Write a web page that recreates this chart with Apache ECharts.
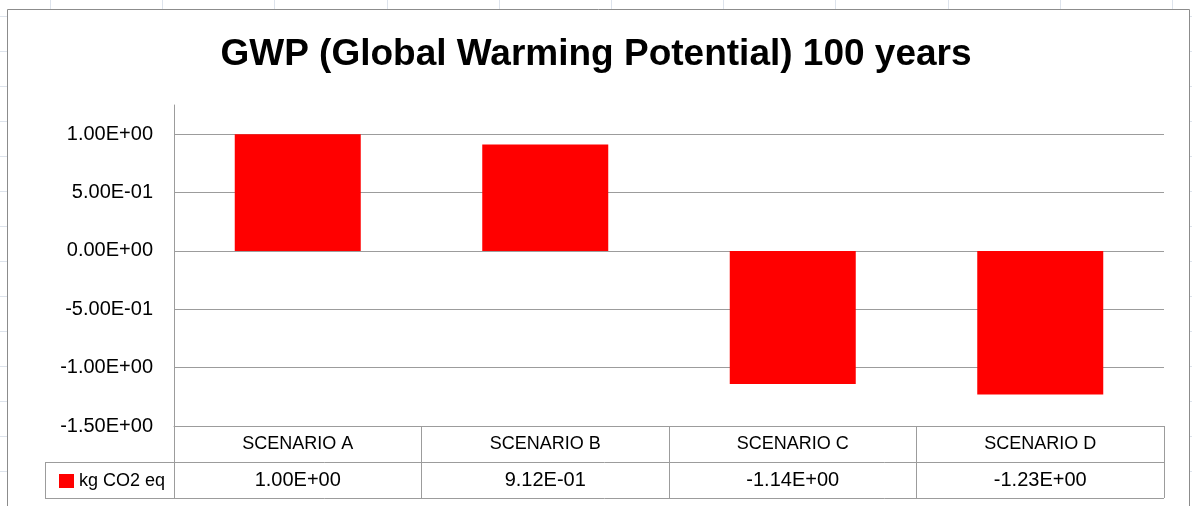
<!DOCTYPE html>
<html>
<head>
<meta charset="utf-8">
<title>GWP (Global Warming Potential) 100 years</title>
<script src="https://cdn.jsdelivr.net/npm/echarts@6/dist/echarts.min.js"></script>
<style>
  html, body { margin: 0; padding: 0; background: #ffffff; }
  #chart { width: 1192px; height: 506px; }
</style>
</head>
<body>
<div id="chart"></div>
<script>
// Scenario categories and their kg CO2 eq results
const categories = ['SCENARIO A', 'SCENARIO B', 'SCENARIO C', 'SCENARIO D'];
const seriesName = 'kg CO2 eq';
const gwpValues = [1.00, 0.912, -1.14, -1.23];

// Value axis range and step
const axisMin = -1.5;
const axisMax = 1.25;
const axisStep = 0.5;

const FONT = 'Liberation Sans';
const LINE = '#9c9c9c';
const SHEET = '#dde3ec';

// Scientific notation in the spreadsheet style, e.g. 9.12E-01
function sci(v) {
  const s = Number(v).toExponential(2);
  const parts = s.split('e');
  let exp = parts[1];
  const sign = exp[0] === '-' ? '-' : '+';
  exp = exp.replace(/[+-]/, '');
  if (exp.length < 2) exp = '0' + exp;
  return parts[0] + 'E' + sign + exp;
}

// Faint worksheet cell lines peeking around the chart frame
const sheetLines = [];
for (let x = 50; x < 1192; x += 112.2) {
  sheetLines.push({ type: 'line', silent: true, z: -10,
    shape: { x1: Math.round(x) + 0.5, y1: 0, x2: Math.round(x) + 0.5, y2: 9 },
    style: { stroke: SHEET, lineWidth: 1 } });
}
for (let y = 15.5; y < 506; y += 35) {
  sheetLines.push({ type: 'line', silent: true, z: -10,
    shape: { x1: 0, y1: Math.round(y) + 0.5, x2: 7, y2: Math.round(y) + 0.5 },
    style: { stroke: SHEET, lineWidth: 1 } });
  sheetLines.push({ type: 'line', silent: true, z: -10,
    shape: { x1: 1190, y1: Math.round(y) + 0.5, x2: 1192, y2: Math.round(y) + 0.5 },
    style: { stroke: SHEET, lineWidth: 1 } });
}

// Chart frame and data-table borders
const frame = [
  { type: 'rect', silent: true, z: -5,
    shape: { x: 7.5, y: 9.5, width: 1182, height: 520 },
    style: { fill: '#ffffff', stroke: '#8c8c8c', lineWidth: 1 } },
  { type: 'line', silent: true, z: 10,
    shape: { x1: 45, y1: 462.5, x2: 1164, y2: 462.5 },
    style: { stroke: LINE, lineWidth: 1 } },
  { type: 'line', silent: true, z: 10,
    shape: { x1: 45, y1: 498.5, x2: 1164, y2: 498.5 },
    style: { stroke: LINE, lineWidth: 1 } },
  { type: 'line', silent: true, z: 10,
    shape: { x1: 45.5, y1: 462, x2: 45.5, y2: 499 },
    style: { stroke: LINE, lineWidth: 1 } }
];

const chart = echarts.init(document.getElementById('chart'), null, { renderer: 'canvas' });

chart.setOption({
  animation: false,
  backgroundColor: 'transparent',
  title: {
    text: 'GWP (Global Warming Potential) 100 years',
    left: 'center',
    top: 31,
    textStyle: { fontFamily: FONT, fontSize: 37, fontWeight: 'bold', color: '#000000' }
  },
  legend: {
    data: [seriesName],
    left: 54,
    top: 467,
    itemWidth: 15,
    itemHeight: 14,
    icon: 'rect',
    textStyle: { fontFamily: FONT, fontSize: 18, color: '#000000' }
  },
  grid: { left: 174, right: 28, top: 105, bottom: 80, containLabel: false },
  xAxis: {
    type: 'category',
    data: categories,
    position: 'bottom',
    boundaryGap: true,
    axisLine: { show: true, onZero: false, lineStyle: { color: LINE, width: 1 } },
    axisTick: { show: true, interval: 0, alignWithLabel: false, length: 72,
      lineStyle: { color: LINE, width: 1 } },
    splitLine: { show: false },
    axisLabel: {
      interval: 0,
      margin: 0,
      formatter: function (name, idx) {
        return '{c|' + name + '}\n{v|' + sci(gwpValues[idx]) + '}';
      },
      rich: {
        c: { fontFamily: FONT, fontSize: 18, lineHeight: 36, color: '#000000' },
        v: { fontFamily: FONT, fontSize: 20, lineHeight: 36, color: '#000000' }
      }
    }
  },
  yAxis: {
    type: 'value',
    min: axisMin,
    max: axisMax,
    interval: axisStep,
    axisLine: { show: true, lineStyle: { color: LINE, width: 1 } },
    axisTick: { show: false },
    splitLine: { show: true, showMaxLine: false, showMinLine: false,
      lineStyle: { color: LINE, width: 1 } },
    axisLabel: {
      margin: 21,
      showMaxLabel: false,
      fontFamily: FONT,
      fontSize: 20,
      color: '#000000',
      formatter: function (v) { return sci(v); }
    }
  },
  series: [{
    name: seriesName,
    type: 'bar',
    data: gwpValues,
    barWidth: 126,
    itemStyle: { color: '#ff0000' }
  }],
  graphic: sheetLines.concat(frame)
});
</script>
</body>
</html>
